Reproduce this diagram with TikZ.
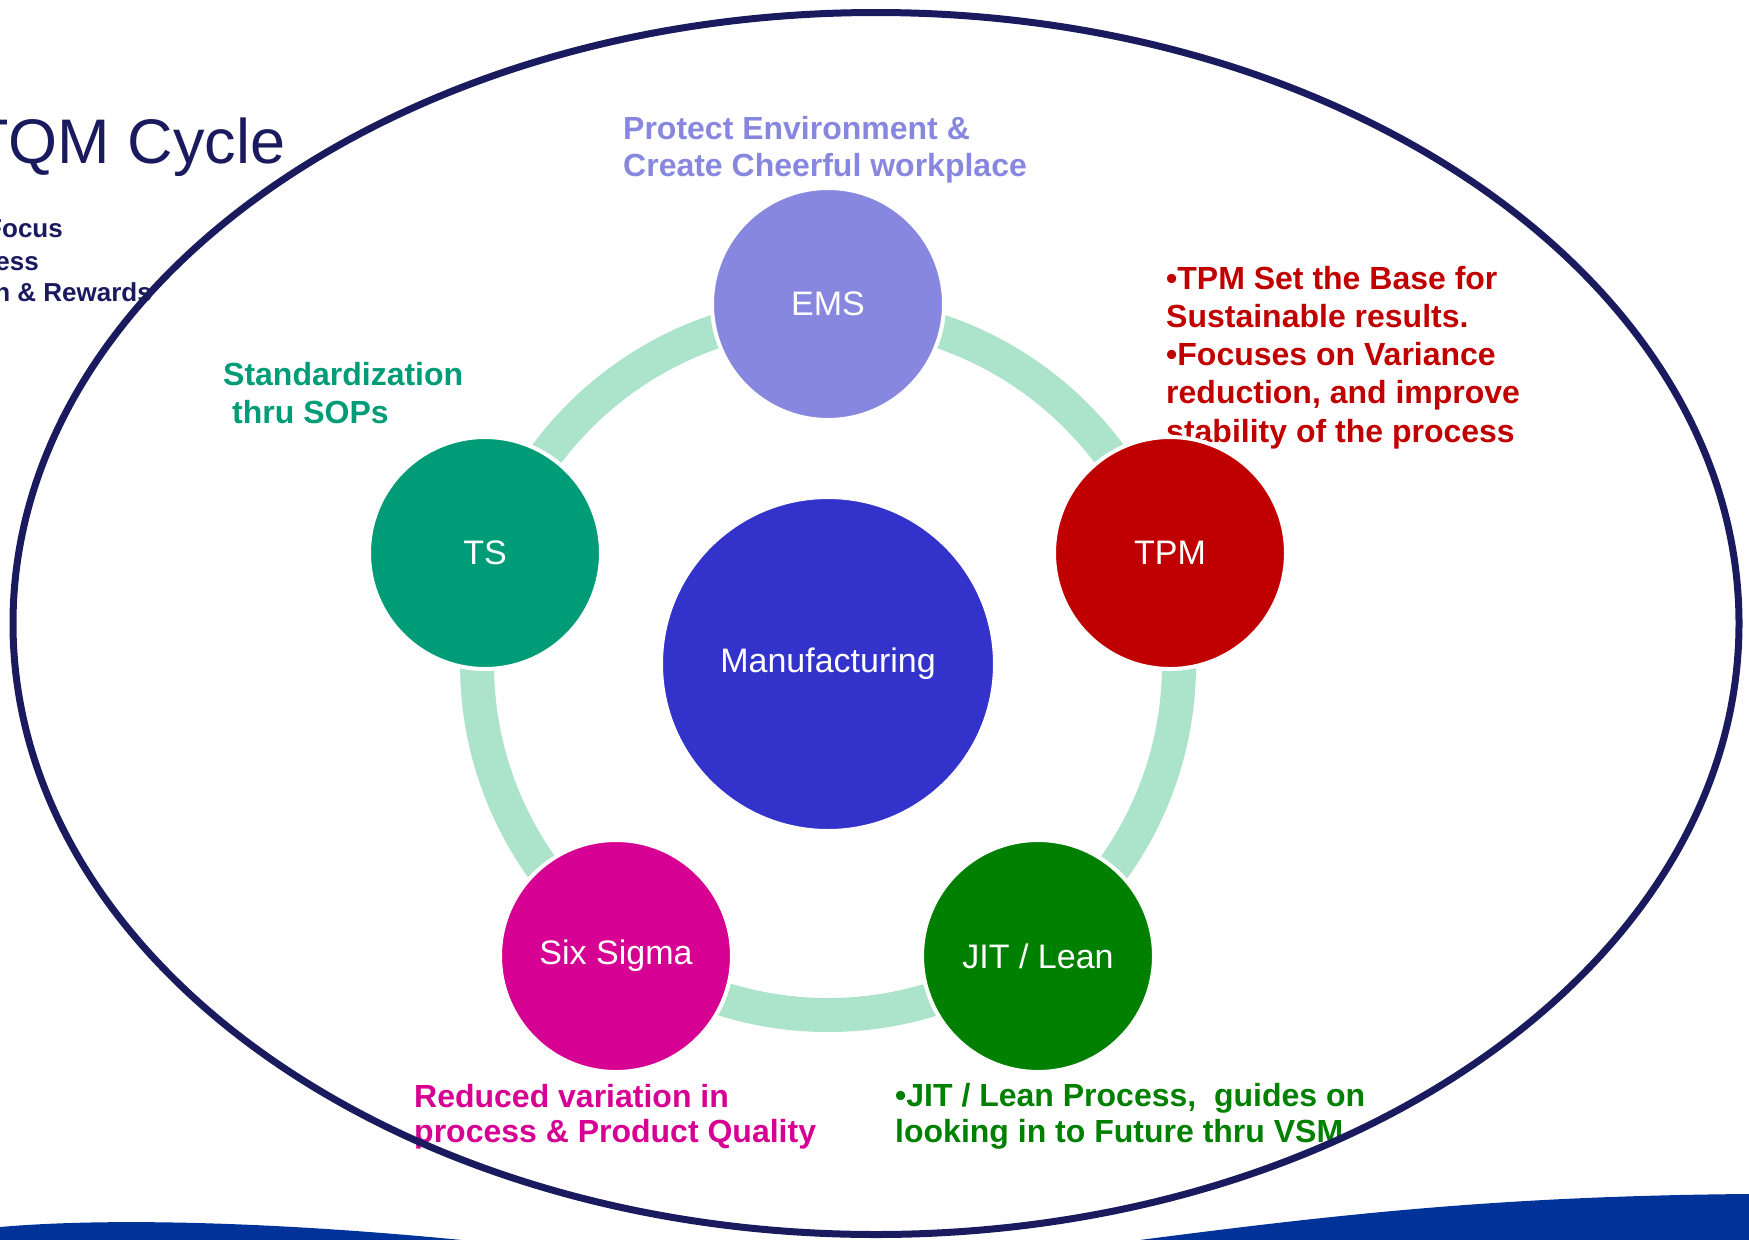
\documentclass[tikz,border=0pt]{standalone}
\usepackage{fontspec}
\setmainfont{Liberation Sans}
\definecolor{navy}{HTML}{1A1A5E}
\definecolor{wavecol}{HTML}{003399}
\definecolor{ringcol}{HTML}{ABE3CB}
\definecolor{emscol}{HTML}{8787DF}
\definecolor{tpmcol}{HTML}{C00000}
\definecolor{jitcol}{HTML}{008000}
\definecolor{sixcol}{HTML}{D60093}
\definecolor{tscol}{HTML}{009B77}
\definecolor{mfgcol}{HTML}{3333CC}
\begin{document}
\begin{tikzpicture}[x=1pt,y=-1pt,
  lbl/.style={inner sep=0pt,anchor=base west,font=\fontsize{32}{38}\selectfont\bfseries},
  lblr/.style={inner sep=0pt,anchor=base east,font=\fontsize{26}{32}\selectfont\bfseries,text=navy},
  bubble/.style={circle,draw=white,line width=4pt,minimum size=232pt,inner sep=0pt,text=white,font=\fontsize{34}{40}\selectfont},
  hub/.style={circle,draw=white,line width=4pt,minimum size=334pt,inner sep=0pt,text=white,fill=mfgcol,font=\fontsize{34}{40}\selectfont},
  ringstyle/.style={draw=ringcol,line width=34pt},
  rim/.style={draw=navy,line width=7pt}]
\useasboundingbox (0,0) rectangle (1749,1240);
% bottom waves
\fill[wavecol] (0,1241) -- (0,1227) .. controls (90,1219) and (250,1219) .. (472,1241) -- cycle;
\fill[wavecol] (1132,1241) .. controls (1340,1214) and (1500,1196) .. (1749,1194) -- (1749,1241) -- cycle;
% title and left texts
\node[inner sep=0pt,anchor=base west,font=\fontsize{63}{70}\selectfont,text=navy] (title) at (-30,163) {TQM Cycle};
\node[lblr] (l1) at (63,237) {Focus};
\node[lblr] (l2) at (39,270) {ess};
\node[lblr] (l3) at (152,301) {n \& Rewards};
% annotation texts
\node[lbl,text=emscol] (e1) at (623,139) {Protect Environment \&};
\node[lbl,text=emscol] (e2) at (623,176) {Create Cheerful workplace};
\node[lbl,text=tpmcol] (t1) at (1166,289) {•TPM Set the Base for};
\node[lbl,text=tpmcol] (t2) at (1166,327) {Sustainable results.};
\node[lbl,text=tpmcol] (t3) at (1166,365) {•Focuses on Variance};
\node[lbl,text=tpmcol] (t4) at (1166,403) {reduction, and improve};
\node[lbl,text=tpmcol] (t5) at (1166,442) {stability of the process};
\node[lbl,text=tscol] (s1) at (223,385) {Standardization};
\node[lbl,text=tscol] (s2) at (232,423) {thru SOPs};
\node[lbl,text=sixcol] (r1) at (414,1107) {Reduced variation in};
\node[lbl,text=sixcol] (r2) at (414,1142) {process \& Product Quality};
\node[lbl,text=jitcol] (j1) at (895,1106) {•JIT / Lean Process,\ \ guides on};
\node[lbl,text=jitcol] (j2) at (895,1142) {looking in to Future thru VSM};
% ring
\coordinate (c) at (828,664);
\draw[ringstyle] (c) circle[radius=351pt];
% nodes
\node[hub] (mfg) at (c) {Manufacturing};
\node[bubble,fill=emscol] (ems) at (828,304) {EMS};
\node[bubble,fill=tpmcol] (tpm) at (1170,553) {TPM};
\node[bubble,fill=jitcol] (jit) at (1038,956) {JIT / Lean};
\node[bubble,fill=sixcol] (six) at (616,956) {Six Sigma};
\node[bubble,fill=tscol] (ts) at (485,553) {TS};
% big ellipse
\draw[rim] (876,623.5) ellipse[x radius=863pt,y radius=611pt];
\end{tikzpicture}
\end{document}
